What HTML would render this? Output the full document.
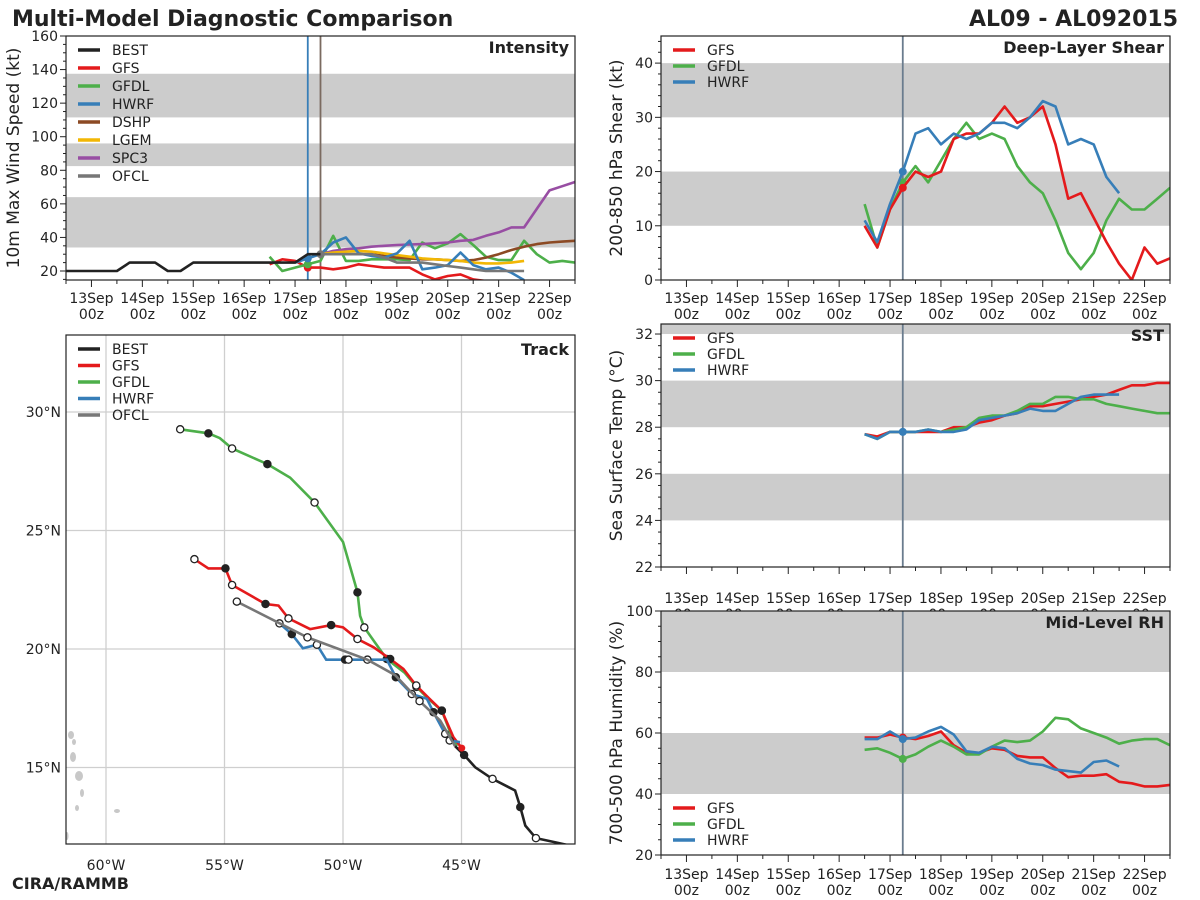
<!DOCTYPE html>
<html><head><meta charset="utf-8"><style>
html,body{margin:0;padding:0;background:#fff;}
svg{display:block;font-family:"DejaVu Sans","Liberation Sans",sans-serif;}
</style></head><body>
<svg id="fig" width="1200" height="900" viewBox="0 0 1200 900">
<text x="12" y="26" font-size="22" font-weight="bold" fill="#222">Multi-Model Diagnostic Comparison</text>
<text x="1178" y="26" font-size="22" font-weight="bold" fill="#222" text-anchor="end">AL09 - AL092015</text>
<text x="12" y="889" font-size="16" font-weight="bold" fill="#222">CIRA/RAMMB</text>
</svg>
<script>
// ---------- data ----------
const fhrs = [84,90,96,102,108,114,120,126,132,138,144,150,156,162,168,174,180,186,192,198,204,210,216,222,228];
const bestHrs = [-12,-6,0,6,12,18,24,30,36,42,48,54,60,66,72,78,84,90,96,102,108];
const bestInt = [20,20,20,20,20,25,25,25,20,20,25,25,25,25,25,25,25,25,25,30,30];
const gfsInt  = [24,27,26,22,22,21,22,24,23,22,22,22,18,15,17,18,15,14,12,11,10,9,8,8,8];
const gfdlInt = [28.5,20,22,24,26,41,26,26,27,27,27,26.5,37,33.5,36.5,42,35.5,28.5,26.5,26.5,38,30,25,26,25];
const hwrfHrs = [96,102,108,114,120,126,132,138,144,150,156,162,168,174,180,186,192,198,204];
const hwrfInt = [25,27.5,30,37,40,30.5,29,28,30.5,38,21,22,23.5,31,23.5,21,22,19,14.6];
const aidHrs = [108,114,120,126,132,138,144,150,156,162,168,174,180,186,192,198,204,210,216,222,228];
const dshpInt = [30,30,30,30,30,29,28,27.5,27,27,26.5,26,26.5,28,30,32.5,34.5,36,37,37.5,38];
const spc3Int = [30,32,33,33.5,34.5,35,35.5,35.8,36,36.5,37,38,38.5,41,43,46,46,57,68,70.5,73];
const lgemHrs = [108,114,120,126,132,138,144,150,156,162,168,174,180,186,192,198,204];
const lgemInt = [30,31,31.5,32,31.5,30.5,29.5,28.5,27.5,27,26.5,26,25,24.5,24.5,25,26];
const ofclInt = [30,30,30,30,30,28,25,25,25,24,23,22,21,20,20,20,20];

const hwrfDiagHrs = [84,90,96,102,108,114,120,126,132,138,144,150,156,162,168,174,180,186,192,198,204];
const gfsShear  = [10,6,13,17,20,19,20,26,27,27,29,32,29,30,32,25,15,16,11.5,7,3,0,6,3,4];
const gfdlShear = [14,6,13,18,21,18,22,26,29,26,27,26,21,18,16,11,5,2,5,11,15,13,13,15,17];
const hwrfShear = [11,7,14,20,27,28,25,27,26,27,29,29,28,30,33,32,25,26,25,19,16];

const gfsSst  = [27.7,27.6,27.8,27.8,27.8,27.8,27.8,28.0,28.0,28.2,28.3,28.5,28.6,28.9,28.9,29.0,29.1,29.2,29.3,29.4,29.6,29.8,29.8,29.9,29.9];
const gfdlSst = [27.7,27.5,27.8,27.8,27.8,27.9,27.8,27.9,28.0,28.4,28.5,28.5,28.7,29.0,29.0,29.3,29.3,29.2,29.2,29.0,28.9,28.8,28.7,28.6,28.6];
const hwrfSst = [27.7,27.5,27.8,27.8,27.8,27.9,27.8,27.8,27.9,28.3,28.4,28.5,28.6,28.8,28.7,28.7,29.0,29.3,29.4,29.4,29.4];

const gfsRh  = [58.5,58.5,59.5,58.5,58,59,60.5,56,53.5,53.5,55,54.5,52.5,52,52,48.5,45.5,46,46,46.5,44,43.5,42.5,42.5,43];
const gfdlRh = [54.5,55,53.5,51.5,53,55.5,57.5,55.5,53,53,55.5,57.5,57,57.5,60.5,65,64.5,61.5,60,58.5,56.5,57.5,58,58,56];
const hwrfRh = [58,58,60.5,58,58.5,60.5,62,59.5,54,53.5,55.5,55,51.5,50,49.5,48,47.5,47,50.5,51,49];

const dayLabels = ["13Sep","14Sep","15Sep","16Sep","17Sep","18Sep","19Sep","20Sep","21Sep","22Sep"];

// track: [lon, lat, marker] marker 0 none, 1 open, 2 filled
const gfdlTrack = [[-56.87,29.27,1],[-55.68,29.1,2],[-55.2,28.9,0],[-54.68,28.46,1],[-53.19,27.8,2],[-52.23,27.23,0],[-51.2,26.18,1],[-50.0,24.52,0],[-49.39,22.39,2],[-49.28,21.4,0],[-49.1,20.91,1],[-48.6,20.2,0],[-48.15,19.58,2],[-47.4,19.0,0],[-46.9,18.4,1],[-46.4,17.9,0],[-45.83,17.4,2],[-45.4,16.3,0],[-45.2,15.9,0]];
const gfsTrack = [[-56.27,23.79,1],[-55.68,23.4,0],[-54.96,23.4,2],[-54.68,22.7,1],[-53.27,21.9,2],[-52.72,21.83,0],[-52.3,21.29,1],[-51.39,20.84,0],[-50.5,21.01,2],[-50.0,20.91,0],[-49.39,20.42,1],[-48.71,20.07,0],[-48.01,19.58,2],[-47.45,19.16,0],[-46.91,18.46,1],[-46.35,17.9,0],[-45.83,17.4,2],[-45.34,16.28,0],[-44.99,15.82,0]];
const hwrfTrack = [[-52.68,21.08,1],[-52.16,20.63,2],[-51.69,20.03,0],[-51.1,20.18,1],[-50.71,19.55,0],[-49.91,19.55,2],[-49.77,19.55,1],[-48.97,19.55,1],[-48.15,19.55,0],[-47.77,18.81,2],[-47.1,18.1,1],[-46.46,17.9,0],[-46.18,17.33,2],[-45.69,16.42,1],[-45.5,16.14,1],[-45.06,16.07,0]];
const ofclTrack = [[-54.48,22.0,1],[-51.5,20.49,1],[-48.97,19.55,0],[-47.8,18.9,0],[-46.77,17.8,1],[-45.9,16.98,0],[-45.27,15.9,0]];
const bestTrack = [[-45.27,15.9,0],[-44.89,15.53,2],[-44.42,15.01,0],[-43.69,14.52,1],[-42.74,14.03,0],[-42.52,13.33,2],[-42.31,12.55,0],[-41.86,12.02,1],[-40.98,11.83,0],[-39.5,11.5,0]];
const lonTicks = [-60,-55,-50,-45];
const lonLabels = ["60°W","55°W","50°W","45°W"];
const latTicks = [15,20,25,30];
const latLabels = ["15°N","20°N","25°N","30°N"];

// ---------- helpers ----------
const NS='http://www.w3.org/2000/svg';
const svg=document.getElementById('fig');
function E(tag,at,parent){const e=document.createElementNS(NS,tag);for(const k in at)e.setAttribute(k,at[k]);(parent||svg).appendChild(e);return e;}
const C={best:'#222',gfs:'#e41a1c',gfdl:'#4daf4a',hwrf:'#377eb8',dshp:'#8c4a24',lgem:'#f2b705',spc3:'#984ea3',ofcl:'#777'};
let clipN=0;

function timePanel(p){
  const g=E('g',{});
  
  
  const X=h=>p.x0+(h+12)*(p.x1-p.x0)/240;
  const Y=v=>p.y1-(v-p.ymin)*(p.y1-p.y0)/(p.ymax-p.ymin);
  E('rect',{x:p.x0,y:p.y0,width:p.x1-p.x0,height:p.y1-p.y0,fill:'#fff'},g);
  p.bands.forEach(b=>{
    const t=Y(Math.min(b[1],p.ymax)),bt=Y(Math.max(b[0],p.ymin));
    const r=E('rect',{x:p.x0,y:t,width:p.x1-p.x0,height:bt-t,fill:'#cccccc'},g);
    
    
  });
  // init lines
  p.vlines.forEach(v=>{
    const l=E('line',{x1:X(v[0]),x2:X(v[0]),y1:p.y0,y2:p.y1,stroke:v[1],'stroke-width':1.8},g);
    
    
  });
  const cid='c'+(clipN++);
  const cp=E('clipPath',{id:cid},g);E('rect',{x:p.x0,y:p.y0,width:p.x1-p.x0,height:p.y1-p.y0},cp);
  const sg=E('g',{'clip-path':'url(#'+cid+')'},g);
  p.series.forEach(s=>{
    const pts=s.h.map((h,i)=>X(h).toFixed(1)+','+Y(s.v[i]).toFixed(1)).join(' ');
    const pl=E('polyline',{points:pts,fill:'none',stroke:s.c,'stroke-width':2.6,'stroke-linejoin':'round'},sg);
    
    
    if(s.dot!==undefined){const i=s.h.indexOf(s.dot);if(i>=0){
      const d=E('circle',{cx:X(s.dot),cy:Y(s.v[i]),r:4,fill:s.c},sg);
      
      }}
  });
  E('rect',{x:p.x0,y:p.y0,width:p.x1-p.x0,height:p.y1-p.y0,fill:'none',stroke:'#222','stroke-width':1.2},g);
  // y ticks
  for(let v=Math.ceil(p.ymin/p.minor)*p.minor;v<=p.ymax+1e-6;v+=p.minor){
    const maj=Math.abs(v/p.major-Math.round(v/p.major))<1e-6;
    E('line',{x1:p.x0-(maj?6:3),x2:p.x0,y1:Y(v),y2:Y(v),stroke:'#222','stroke-width':1},g);
    if(maj){const t=E('text',{x:p.x0-8,y:Y(v)+5,'font-size':14,fill:'#222','text-anchor':'end'},g);t.textContent=String(v);
      
      }
  }
  // x ticks
  for(let h=-12;h<=228;h+=6){
    const maj=h%24===0;
    const len=maj?7:(h%12===0?4:0);
    if(len)E('line',{x1:X(h),x2:X(h),y1:p.y1,y2:p.y1+len,stroke:'#222','stroke-width':1},g);
  }
  dayLabels.forEach((d,i)=>{
    const t=E('text',{x:X(i*24),y:p.ly,'font-size':14,fill:'#222','text-anchor':'middle'},g);t.textContent=d;
    
    
    const t2=E('text',{x:X(i*24),y:p.ly+16,'font-size':14,fill:'#222','text-anchor':'middle'},g);t2.textContent='00z';
    
    
  });
  const yt=E('text',{x:0,y:0,'font-size':17,fill:'#222','text-anchor':'middle',transform:`translate(${p.tx},${(p.y0+p.y1)/2}) rotate(-90)`},g);
  yt.textContent=p.ytitle;
  
  
  const tt=E('text',{x:p.x1-6,y:p.y0+17,'font-size':16,'font-weight':'bold',fill:'#222','text-anchor':'end'},g);
  tt.textContent=p.title;
  
  
  legend(g,p.x0+12,p.legY,p.legDy,p.leg);
}
function legend(g,x,y,dy,items){
  items.forEach((it,i)=>{
    const lg=E('g',{},g);
    
    
    E('line',{x1:x,x2:x+22,y1:y+i*dy,y2:y+i*dy,stroke:it[1],'stroke-width':3.5},lg);
    const t=E('text',{x:x+34,y:y+i*dy+5,'font-size':14,fill:'#222'},lg);t.textContent=it[0];
  });
}

timePanel({name:'intensity-panel',x0:66,x1:575,y0:36,y1:280,ymin:14.64,ymax:160,major:20,minor:5,
  bands:[[34,64],[82.5,96],[111.5,137.5]],vlines:[[102,'#377eb8'],[108,'#7a6a60']],ly:303,tx:19,
  ytitle:'10m Max Wind Speed (kt)',title:'Intensity',legY:50,legDy:18,
  leg:[['BEST',C.best],['GFS',C.gfs],['GFDL',C.gfdl],['HWRF',C.hwrf],['DSHP',C.dshp],['LGEM',C.lgem],['SPC3',C.spc3],['OFCL',C.ofcl]],
  series:[{n:'gfs',h:fhrs,v:gfsInt,c:C.gfs,dot:102},{n:'gfdl',h:fhrs,v:gfdlInt,c:C.gfdl,dot:102},
    {n:'dshp',h:aidHrs,v:dshpInt,c:C.dshp},{n:'spc3',h:aidHrs,v:spc3Int,c:C.spc3},{n:'lgem',h:lgemHrs,v:lgemInt,c:C.lgem},
    {n:'hwrf',h:hwrfHrs,v:hwrfInt,c:C.hwrf,dot:102},{n:'ofcl',h:lgemHrs,v:ofclInt,c:C.ofcl,dot:108},{n:'best',h:bestHrs,v:bestInt,c:C.best}]});

timePanel({name:'shear-panel',x0:661,x1:1170,y0:36,y1:280,ymin:0,ymax:45,major:10,minor:2,
  bands:[[10,20],[30,40]],vlines:[[102,'#6a7c8e']],ly:303,tx:622,
  ytitle:'200-850 hPa Shear (kt)',title:'Deep-Layer Shear',legY:50,legDy:16,
  leg:[['GFS',C.gfs],['GFDL',C.gfdl],['HWRF',C.hwrf]],
  series:[{n:'gfdl',h:fhrs,v:gfdlShear,c:C.gfdl,dot:102},{n:'gfs',h:fhrs,v:gfsShear,c:C.gfs,dot:102},{n:'hwrf',h:hwrfDiagHrs,v:hwrfShear,c:C.hwrf,dot:102}]});

timePanel({name:'sst-panel',x0:661,x1:1170,y0:324,y1:567,ymin:22,ymax:32.43,major:2,minor:0.5,
  bands:[[24,26],[28,30],[32,33]],vlines:[[102,'#6a7c8e']],ly:603,tx:622,
  ytitle:'Sea Surface Temp (°C)',title:'SST',legY:338,legDy:16,
  leg:[['GFS',C.gfs],['GFDL',C.gfdl],['HWRF',C.hwrf]],
  series:[{n:'gfs',h:fhrs,v:gfsSst,c:C.gfs},{n:'gfdl',h:fhrs,v:gfdlSst,c:C.gfdl},{n:'hwrf',h:hwrfDiagHrs,v:hwrfSst,c:C.hwrf,dot:102}]});

timePanel({name:'rh-panel',x0:661,x1:1170,y0:611,y1:855,ymin:20,ymax:100,major:20,minor:5,
  bands:[[40,60],[80,100]],vlines:[[102,'#6a7c8e']],ly:879,tx:622,
  ytitle:'700-500 hPa Humidity (%)',title:'Mid-Level RH',legY:808,legDy:16,
  leg:[['GFS',C.gfs],['GFDL',C.gfdl],['HWRF',C.hwrf]],
  series:[{n:'gfs',h:fhrs,v:gfsRh,c:C.gfs,dot:102},{n:'gfdl',h:fhrs,v:gfdlRh,c:C.gfdl,dot:102},{n:'hwrf',h:hwrfDiagHrs,v:hwrfRh,c:C.hwrf,dot:102}]});

// ---------- track panel ----------
(function(){
  const x0=66,x1=575,y0=335,y1=844;
  const LX=lon=>106+(lon+60)*23.7, LY=lat=>649-(lat-20)*23.7;
  const g=E('g',{});
  
  
  E('rect',{x:x0,y:y0,width:x1-x0,height:y1-y0,fill:'#fff'},g);
  lonTicks.forEach((l,i)=>{
    E('line',{x1:LX(l),x2:LX(l),y1:y0,y2:y1,stroke:'#cfcfcf','stroke-width':1.3},g);
    const t=E('text',{x:LX(l),y:870,'font-size':14,fill:'#222','text-anchor':'middle'},g);t.textContent=lonLabels[i];
    
    
  });
  latTicks.forEach((l,i)=>{
    E('line',{x1:x0,x2:x1,y1:LY(l),y2:LY(l),stroke:'#cfcfcf','stroke-width':1.3},g);
    const t=E('text',{x:61,y:LY(l)+5,'font-size':14,fill:'#222','text-anchor':'end'},g);t.textContent=latLabels[i];
    
    
  });
  // islands
  const isl=E('g',{fill:'#c8c8c8'},g);
  
  
  [[71,735,3,4],[74,742,2,3],[73,757,3,5],[79,776,4,5],[82,793,2,4],[77,808,2,3],[117,811,3,2],[67,836,1.5,4]].forEach(a=>E('ellipse',{cx:a[0],cy:a[1],rx:a[2],ry:a[3]},isl));
  const cp=E('clipPath',{id:'trk'},g);E('rect',{x:x0,y:y0,width:x1-x0,height:y1-y0},cp);
  const sg=E('g',{'clip-path':'url(#trk)'},g);
  [['gfdl',gfdlTrack,C.gfdl],['gfs',gfsTrack,C.gfs],['hwrf',hwrfTrack,C.hwrf],['ofcl',ofclTrack,C.ofcl],['best',bestTrack,C.best]].forEach(s=>{
    const pl=E('polyline',{points:s[1].map(p=>LX(p[0]).toFixed(1)+','+LY(p[1]).toFixed(1)).join(' '),fill:'none',stroke:s[2],'stroke-width':2.6},sg);
    
    
    s[1].forEach(p=>{if(p[2]){
      const m=E('circle',{cx:LX(p[0]),cy:LY(p[1]),r:3.6,fill:p[2]===2?'#222':'#fff',stroke:'#222','stroke-width':1.3},sg);
      
      }});
  });
  const cur=E('circle',{cx:LX(-44.99),cy:LY(15.82),r:3.5,fill:C.gfs},sg);
  
  
  E('rect',{x:x0,y:y0,width:x1-x0,height:y1-y0,fill:'none',stroke:'#222','stroke-width':1.2},g);
  const tt=E('text',{x:x1-6,y:y0+20,'font-size':16,'font-weight':'bold',fill:'#222','text-anchor':'end'},g);
  tt.textContent='Track';
  
  
  legend(g,78,349,16.5,[['BEST',C.best],['GFS',C.gfs],['GFDL',C.gfdl],['HWRF',C.hwrf],['OFCL',C.ofcl]]);
})();
</script>
</body></html>
